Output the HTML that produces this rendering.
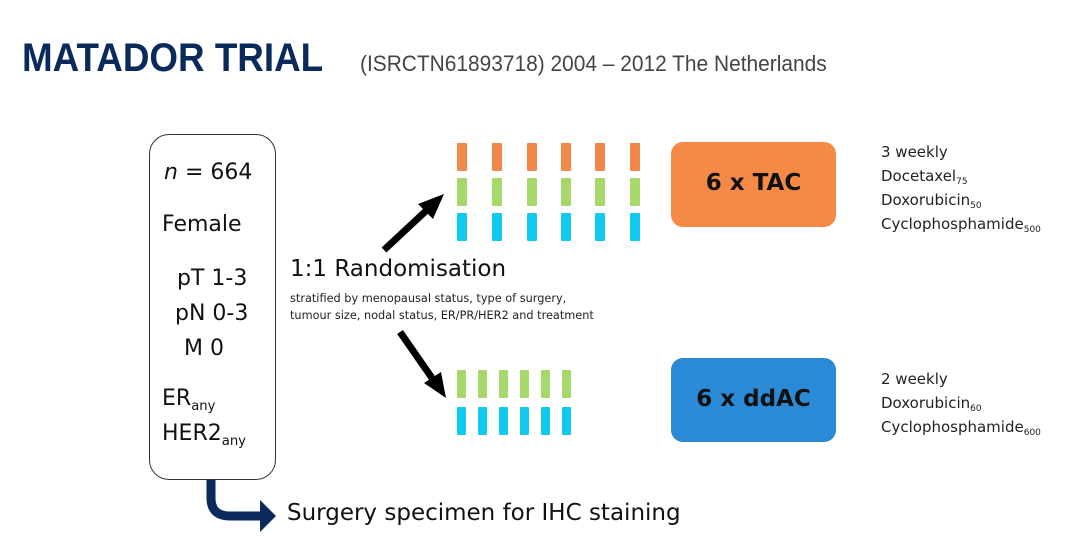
<!DOCTYPE html>
<html><head><style>
body{margin:0;width:1080px;height:542px;background:#fff;position:relative;overflow:hidden;font-family:"Liberation Sans",sans-serif;}
.a{position:absolute;white-space:nowrap;}
.t{font-family:"DejaVu Sans","Liberation Sans",sans-serif;color:#111;}
.bar{position:absolute;width:10px;height:28px;border-radius:1px;}
.o{background:#f0884a}.g{background:#a6d86a}.c{background:#10c8f0}
sub{font-size:60%;position:relative;top:0.35em;vertical-align:baseline;line-height:0;}
</style></head><body>
<div class="a" style="left:22px;top:36px;font-size:40px;font-weight:bold;color:#0b2a5c;transform:scaleX(0.92);transform-origin:left top;">MATADOR TRIAL</div>
<div class="a" style="left:360px;top:51px;font-size:22px;color:#444;transform:scaleX(0.95);transform-origin:left top;">(ISRCTN61893718) 2004 – 2012 The Netherlands</div>

<div class="a" style="left:149px;top:134px;width:125px;height:344px;border:1.5px solid #333;border-radius:20px;"></div>
<div class="a t" style="left:164px;top:160px;font-size:22px;"><i>n</i> = 664</div>
<div class="a t" style="left:162px;top:212px;font-size:22px;">Female</div>
<div class="a t" style="left:177px;top:266px;font-size:22px;">pT 1-3</div>
<div class="a t" style="left:175px;top:301px;font-size:22px;">pN 0-3</div>
<div class="a t" style="left:184px;top:336px;font-size:22px;">M 0</div>
<div class="a t" style="left:162px;top:386px;font-size:22px;">ER<sub>any</sub></div>
<div class="a t" style="left:162px;top:421px;font-size:22px;">HER2<sub>any</sub></div>

<div class="a t" style="left:290px;top:256px;font-size:23px;">1:1 Randomisation</div>
<div class="a t" style="left:290px;top:290px;font-size:11.3px;line-height:17px;color:#222;">stratified by menopausal status, type of surgery,<br>tumour size, nodal status, ER/PR/HER2 and treatment</div>

<div class="a t" style="left:287px;top:500px;font-size:23px;">Surgery specimen for IHC staining</div>

<svg class="a" style="left:0;top:0" width="1080" height="542">
<line x1="384" y1="250" x2="428" y2="209" stroke="#000" stroke-width="7"/>
<polygon points="444,194 418,204 433,219" fill="#000"/>
<line x1="400" y1="332" x2="432" y2="378" stroke="#000" stroke-width="7"/>
<polygon points="446,398 424,383 441,372" fill="#000"/>
<path d="M211,480 V498 Q211,516 230,516 H262" fill="none" stroke="#0b2a5c" stroke-width="9"/>
<polygon points="276,516 260,500 260,532" fill="#0b2a5c"/>
</svg>

<div class="bar o" style="left:457px;top:143px"></div><div class="bar o" style="left:492px;top:143px"></div><div class="bar o" style="left:527px;top:143px"></div><div class="bar o" style="left:561px;top:143px"></div><div class="bar o" style="left:595px;top:143px"></div><div class="bar o" style="left:630px;top:143px"></div>
<div class="bar g" style="left:457px;top:178px"></div><div class="bar g" style="left:492px;top:178px"></div><div class="bar g" style="left:527px;top:178px"></div><div class="bar g" style="left:561px;top:178px"></div><div class="bar g" style="left:595px;top:178px"></div><div class="bar g" style="left:630px;top:178px"></div>
<div class="bar c" style="left:457px;top:213px"></div><div class="bar c" style="left:492px;top:213px"></div><div class="bar c" style="left:527px;top:213px"></div><div class="bar c" style="left:561px;top:213px"></div><div class="bar c" style="left:595px;top:213px"></div><div class="bar c" style="left:630px;top:213px"></div>

<div class="bar g" style="left:457px;top:370px;width:9px"></div><div class="bar g" style="left:478px;top:370px;width:9px"></div><div class="bar g" style="left:499px;top:370px;width:9px"></div><div class="bar g" style="left:520px;top:370px;width:9px"></div><div class="bar g" style="left:541px;top:370px;width:9px"></div><div class="bar g" style="left:562px;top:370px;width:9px"></div>
<div class="bar c" style="left:457px;top:407px;width:9px"></div><div class="bar c" style="left:478px;top:407px;width:9px"></div><div class="bar c" style="left:499px;top:407px;width:9px"></div><div class="bar c" style="left:520px;top:407px;width:9px"></div><div class="bar c" style="left:541px;top:407px;width:9px"></div><div class="bar c" style="left:562px;top:407px;width:9px"></div>

<div class="a" style="left:671px;top:142px;width:165px;height:85px;background:#f58a47;border-radius:12px;"></div>
<div class="a t" style="left:671px;top:170px;width:165px;text-align:center;font-size:23px;font-weight:bold;">6 x TAC</div>
<div class="a" style="left:671px;top:358px;width:165px;height:84px;background:#2a8ad6;border-radius:12px;"></div>
<div class="a t" style="left:671px;top:386px;width:165px;text-align:center;font-size:23px;font-weight:bold;">6 x ddAC</div>

<div class="a t" style="left:881px;top:140px;font-size:15px;line-height:24px;color:#222;">3 weekly<br>Docetaxel<sub>75</sub><br>Doxorubicin<sub>50</sub><br>Cyclophosphamide<sub>500</sub></div>
<div class="a t" style="left:881px;top:367px;font-size:15px;line-height:24px;color:#222;">2 weekly<br>Doxorubicin<sub>60</sub><br>Cyclophosphamide<sub>600</sub></div>
</body></html>
